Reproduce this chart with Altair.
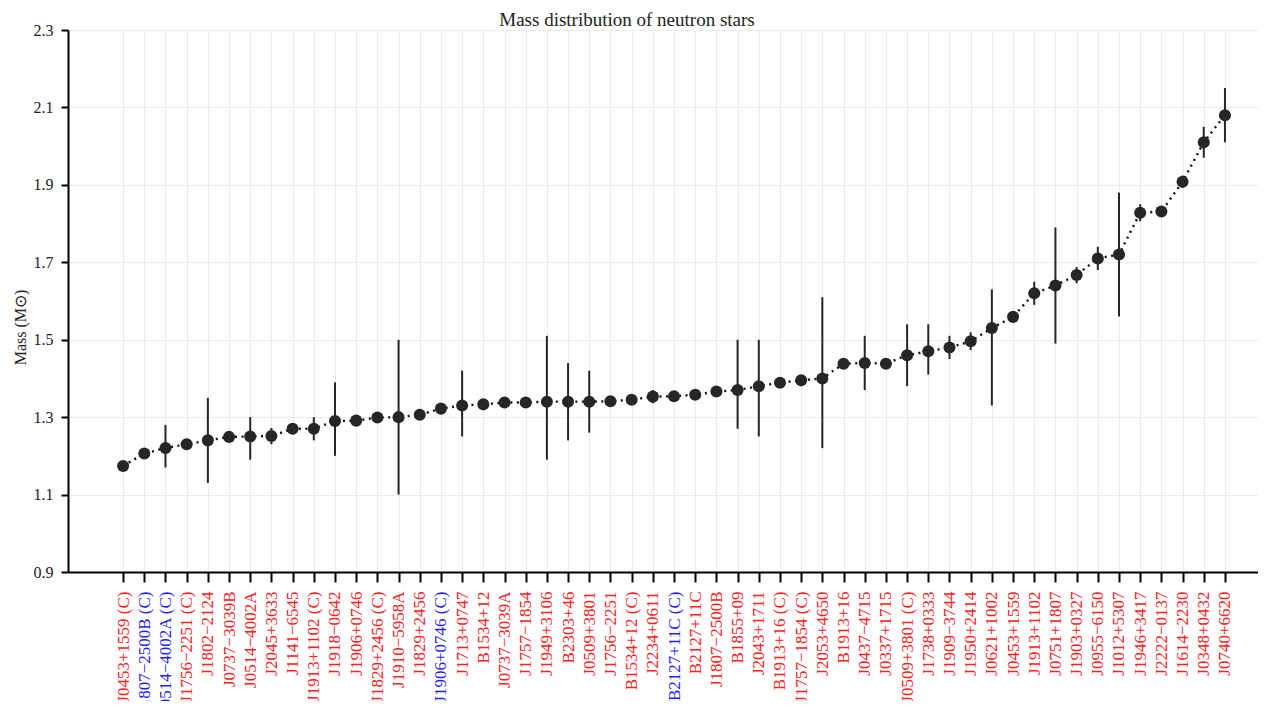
import json
import altair as alt
import pandas as pd

M = "\u2212"
names = [
    "J0453+1559 (C)", f"J1807{M}2500B (C)", f"J0514{M}4002A (C)", f"J1756{M}2251 (C)",
    f"J1802{M}2124", f"J0737{M}3039B", f"J0514{M}4002A", "J2045+3633", f"J1141{M}6545",
    "J1913+1102 (C)", f"J1918{M}0642", "J1906+0746", "J1829+2456 (C)", f"J1910{M}5958A",
    "J1829+2456", "J1906+0746 (C)", "J1713+0747", "B1534+12", f"J0737{M}3039A",
    f"J1757{M}1854", "J1949+3106", "B2303+46", "J0509+3801", f"J1756{M}2251",
    "B1534+12 (C)", "J2234+0611", "B2127+11C (C)", "B2127+11C", f"J1807{M}2500B",
    "B1855+09", "J2043+1711", "B1913+16 (C)", f"J1757{M}1854 (C)", "J2053+4650",
    "B1913+16", f"J0437{M}4715", "J0337+1715", "J0509+3801 (C)", "J1738+0333",
    f"J1909{M}3744", "J1950+2414", "J0621+1002", "J0453+1559", "J1913+1102",
    "J0751+1807", "J1903+0327", f"J0955{M}6150", "J1012+5307", "J1946+3417",
    f"J2222{M}0137", f"J1614{M}2230", "J0348+0432", "J0740+6620",
]
blue_names = [f"J1807{M}2500B (C)", f"J0514{M}4002A (C)", "J1906+0746 (C)", "B2127+11C (C)"]

mass = [
    1.174, 1.206, 1.22, 1.230, 1.24, 1.249, 1.25, 1.251, 1.27, 1.27, 1.29, 1.291,
    1.299, 1.30, 1.306, 1.322, 1.33, 1.333, 1.338, 1.338, 1.34, 1.34, 1.34, 1.341,
    1.345, 1.353, 1.354, 1.358, 1.366, 1.37, 1.38, 1.389, 1.395, 1.40, 1.438, 1.44,
    1.438, 1.46, 1.47, 1.48, 1.496, 1.53, 1.559, 1.62, 1.64, 1.667, 1.71, 1.72,
    1.828, 1.831, 1.908, 2.01, 2.08,
]
err_lo = [
    0.004, 0.002, 0.05, 0.007, 0.11, 0.007, 0.06, 0.021, 0.01, 0.03, 0.09, 0.011,
    0.014, 0.20, 0.007, 0.011, 0.08, 0.002, 0.001, 0.001, 0.15, 0.10, 0.08, 0.001,
    0.002, 0.017, 0.004, 0.004, 0.0008, 0.10, 0.13, 0.001, 0.0006, 0.18, 0.001, 0.07,
    0.0014, 0.08, 0.06, 0.03, 0.023, 0.20, 0.005, 0.03, 0.15, 0.021, 0.03, 0.16,
    0.022, 0.010, 0.016, 0.04, 0.07,
]
err_hi = [
    0.004, 0.002, 0.06, 0.007, 0.11, 0.007, 0.05, 0.021, 0.01, 0.03, 0.10, 0.011,
    0.014, 0.20, 0.007, 0.011, 0.09, 0.002, 0.001, 0.001, 0.17, 0.10, 0.08, 0.001,
    0.002, 0.017, 0.004, 0.004, 0.0008, 0.13, 0.12, 0.001, 0.0006, 0.21, 0.001, 0.07,
    0.0014, 0.08, 0.07, 0.03, 0.023, 0.10, 0.005, 0.03, 0.15, 0.021, 0.03, 0.16,
    0.022, 0.010, 0.016, 0.04, 0.07,
]
y_ticks = [0.9, 1.1, 1.3, 1.5, 1.7, 1.9, 2.1, 2.3]

df = pd.DataFrame({
    "idx": list(range(len(names))),
    "name": names,
    "mass": mass,
    "lo": [m - e for m, e in zip(mass, err_lo)],
    "hi": [m + e for m, e in zip(mass, err_hi)],
})

FONT = "Liberation Serif"
DARK = "#262626"

label_expr = json.dumps(names, ensure_ascii=False) + "[datum.value]"
blue_test = "indexof(" + json.dumps(blue_names, ensure_ascii=False) + ", " + label_expr + ") >= 0"

x = alt.X(
    "idx:Q",
    scale=alt.Scale(domain=[-2.6, 53.56], nice=False, zero=False),
    axis=alt.Axis(
        title=None,
        values=list(range(len(names))),
        labelExpr=label_expr,
        labelAngle=270,
        labelAlign="right",
        labelBaseline="middle",
        labelFontSize=17,
        labelFont=FONT,
        labelColor={"condition": {"test": blue_test, "value": "#1f1fff"}, "value": "#ff2020"},
        labelOverlap=False,
        labelFlush=False,
        labelBound=False,
        labelPadding=9,
        tickSize=10,
        tickWidth=2,
        tickColor="black",
        domainColor="black",
        domainWidth=2,
        grid=True,
        gridColor="#ebebeb",
        gridWidth=1,
    ),
)


def ychan(field):
    return alt.Y(
        f"{field}:Q",
        scale=alt.Scale(domain=[0.9, 2.3], nice=False, zero=False),
        axis=alt.Axis(
            title="Mass (M\u2299)",
            titleFont=FONT,
            titleFontSize=16,
            titleFontWeight="normal",
            titleColor="#222222",
            titleX=-48,
            titleY=297,
            titleAngle=270,
            titleBaseline="middle",
            values=y_ticks,
            format=".1f",
            labelFont=FONT,
            labelFontSize=16,
            labelColor="#222222",
            labelPadding=8,
            tickSize=7,
            tickWidth=2,
            tickColor="black",
            domainColor="black",
            domainWidth=2,
            grid=True,
            gridColor="#ebebeb",
            gridWidth=1,
        ),
    )


base = alt.Chart(df)
bars = base.mark_rule(color=DARK, strokeWidth=2).encode(x=x, y=ychan("lo"), y2="hi:Q")
line = base.mark_line(color="#111111", strokeWidth=2.4, strokeDash=[2, 4.5]).encode(x=x, y=ychan("mass"))
pts = base.mark_circle(color=DARK, opacity=1, size=145).encode(x=x, y=ychan("mass"))

chart = (
    alt.layer(line, bars, pts)
    .properties(
        width=1190,
        height=542,
        autosize="none",
        padding={"left": 60, "top": 22, "right": 0, "bottom": 129},
        title=alt.TitleParams(
            "Mass distribution of neutron stars",
            font=FONT,
            fontSize=19,
            fontWeight="normal",
            color="#222222",
            anchor="middle",
            dx=-36,
            dy=14,
            offset=6,
        ),
    )
    .configure_view(stroke=None)
)

chart.save("out.html", embed_options={"renderer": "svg", "actions": False})
